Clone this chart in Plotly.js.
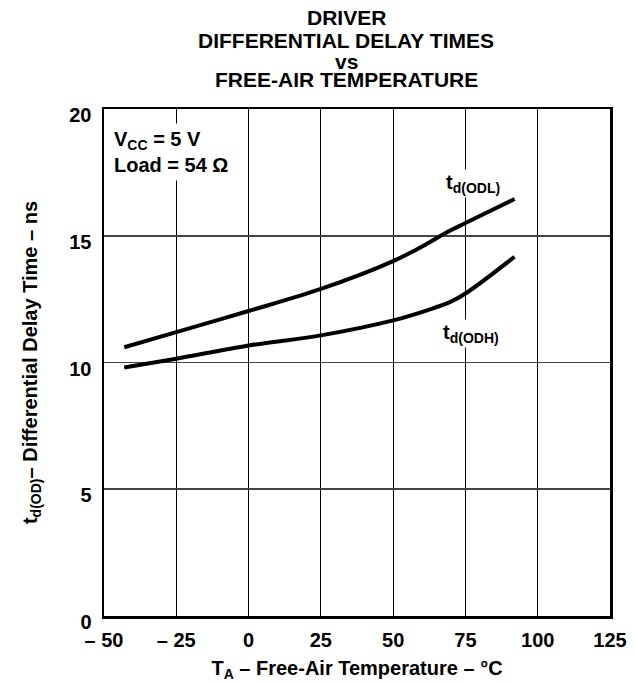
<!DOCTYPE html>
<html>
<head>
<meta charset="utf-8">
<script src="https://cdn.plot.ly/plotly-3.0.1.min.js"></script>
<style>html,body{margin:0;padding:0;background:#fff;}#chart{width:635px;height:683px;}</style>
</head>
<body>
<div id="chart"></div>
<script>
// Data
const odlTemp = [-43, -25, 0, 25, 50, 62, 68, 75, 92];
const odlDelay = [10.6, 11.2, 12.03, 12.9, 14.0, 14.7, 15.1, 15.5, 16.45];
const odhTemp = [-43, -25, 0, 25, 50, 62, 70, 75, 92];
const odhDelay = [9.8, 10.15, 10.67, 11.07, 11.66, 12.07, 12.4, 12.72, 14.17];
const xTickVals = [-50, -25, 0, 25, 50, 75, 100, 125];
const xTickText = ['– 50', '– 25', '0', '25', '50', '75', '100', '125'];
const yTickVals = [0, 5, 10, 15, 20];
const yTickText = ['0', '5', '10', '15', '20'];
const titleLines = ['DRIVER', 'DIFFERENTIAL DELAY TIMES', 'vs', 'FREE-AIR TEMPERATURE'];

const FONT = 'Liberation Sans, Arial, sans-serif';
const W = 635, H = 683, ML = 104, MR = 25, MT = 109, MB = 67;
const PH = H - MT - MB;
const py = p => (H - MB - p) / PH;   // pixel row -> paper y
const px = p => (p - ML) / (W - ML - MR);

const traces = [
  {x: odlTemp, y: odlDelay, mode: 'lines', line: {color: '#000', width: 4, shape: 'spline', smoothing: 1}, hoverinfo: 'skip'},
  {x: odhTemp, y: odhDelay, mode: 'lines', line: {color: '#000', width: 4, shape: 'spline', smoothing: 1}, hoverinfo: 'skip'}
];

const titleY = [18, 41, 62, 80];
const annotations = titleLines.map((t, i) => ({
  xref: 'paper', yref: 'paper', x: px(346), y: py(titleY[i]), xanchor: 'center', yanchor: 'middle',
  text: '<b>' + t + '</b>', showarrow: false, font: {family: FONT, size: 21, color: '#000'}
}));

annotations.push(
  {xref: 'paper', yref: 'paper', x: px(109), y: py(123), xanchor: 'left', yanchor: 'top', align: 'left',
   text: '<b>V<sub>CC</sub> = 5 V<br>Load = 54 Ω</b>', showarrow: false, bgcolor: '#fff', borderpad: 4,
   font: {family: FONT, size: 20, color: '#000'}},
  {xref: 'x', yref: 'y', x: 77.6, y: 17.08, text: '<b>t<sub>d(ODL)</sub></b>', showarrow: false, bgcolor: '#fff',
   font: {family: FONT, size: 20, color: '#000'}},
  {xref: 'x', yref: 'y', x: 77, y: 11.16, text: '<b>t<sub>d(ODH)</sub></b>', showarrow: false, bgcolor: '#fff',
   font: {family: FONT, size: 20, color: '#000'}}
);

const layout = {
  width: W, height: H,
  margin: {l: ML, r: MR, t: MT, b: MB},
  paper_bgcolor: '#fff', plot_bgcolor: '#fff',
  showlegend: false,
  font: {family: FONT, color: '#000', size: 20},
  xaxis: {
    range: [-50, 125], tickvals: xTickVals, ticktext: xTickText,
    showgrid: true, gridcolor: '#000', gridwidth: 1.2,
    zeroline: false, showline: true, linecolor: '#000', linewidth: 2.5, mirror: true,
    ticks: '', ticklabelstandoff: 4, tickfont: {family: FONT, size: 20, weight: 'bold'},
    title: {text: '<b>T<sub>A</sub> – Free-Air Temperature – °C</b>', font: {family: FONT, size: 20}, standoff: 12}
  },
  yaxis: {
    range: [0, 20], tickvals: yTickVals, ticktext: yTickText,
    showgrid: true, gridcolor: '#444', gridwidth: 1.6,
    zeroline: false, showline: true, linecolor: '#000', linewidth: 2.5, mirror: true,
    ticks: '', ticklabelshift: 6, ticklabelstandoff: 6, tickfont: {family: FONT, size: 20, weight: 'bold'},
    title: {text: '<b>t<sub>d(OD)</sub>– Differential Delay Time – ns</b>', font: {family: FONT, size: 20}, standoff: 27}
  },
  annotations: annotations
};

Plotly.newPlot('chart', traces, layout, {staticPlot: true, displayModeBar: false});
</script>
</body>
</html>
